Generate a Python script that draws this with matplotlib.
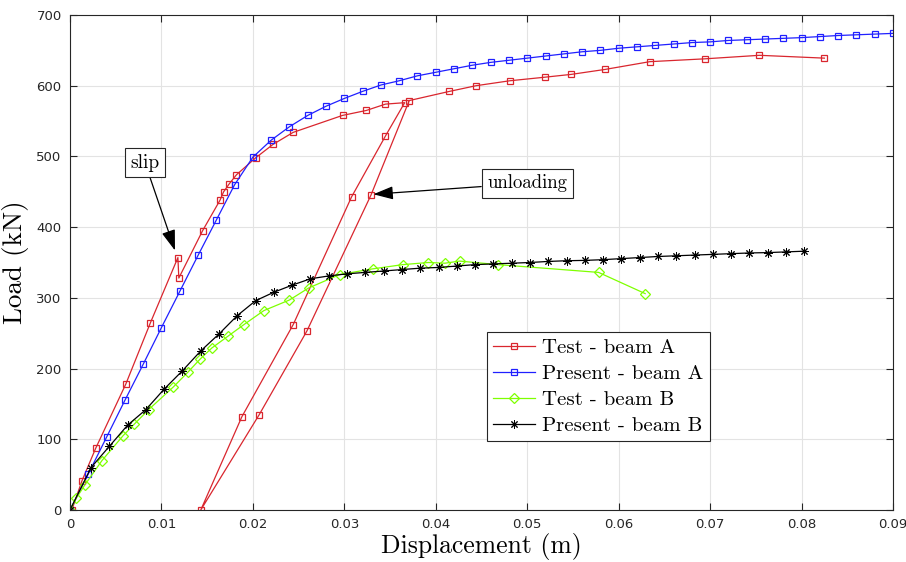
import matplotlib
matplotlib.use("Agg")
import matplotlib.pyplot as plt

# Test - beam A (red squares)
testA_x = [0.0002, 0.0013, 0.0028, 0.0061, 0.0088, 0.0118, 0.0119, 0.0145, 0.0164, 0.0168,
           0.0174, 0.0182, 0.0203, 0.0222, 0.0244, 0.0298, 0.0324, 0.0345, 0.0366,
           0.0345, 0.0308, 0.0244, 0.0188, 0.0143,
           0.0207, 0.0259, 0.0329, 0.0371,
           0.0415, 0.0444, 0.0481, 0.0519, 0.0548, 0.0585, 0.0634, 0.0694, 0.0754, 0.0825]
testA_y = [0, 41, 87, 178, 265, 357, 328, 395, 438, 450,
           461, 474, 498, 517, 534, 558, 565, 574, 576,
           529, 443, 262, 132, 0,
           135, 253, 445, 579,
           592, 600, 607, 612, 616, 623, 634, 638, 643, 639]

# Present - beam A (blue squares)
presA_x = [0.000, 0.002, 0.004, 0.006, 0.008, 0.010, 0.012, 0.014, 0.016, 0.018,
           0.020, 0.022, 0.024, 0.026, 0.028, 0.030, 0.032, 0.034, 0.036, 0.038,
           0.040, 0.042, 0.044, 0.046, 0.048, 0.050, 0.052, 0.054, 0.056, 0.058,
           0.060, 0.062, 0.064, 0.066, 0.068, 0.070, 0.072, 0.074, 0.076, 0.078,
           0.080, 0.082, 0.084, 0.086, 0.088, 0.090]
presA_y = [0, 51, 103, 155, 206, 258, 309, 360, 410, 460,
           499, 523, 542, 558, 571, 582, 592, 601, 607, 614,
           619, 624, 629, 633, 636, 639, 642, 645, 648, 650,
           653, 655, 657, 659, 661, 662, 664, 665, 666, 667,
           668, 669.5, 671, 672, 673, 674]

# Test - beam B (green diamonds)
testB_x = [0.0, 0.0007, 0.0016, 0.0035, 0.0058, 0.0070, 0.0086, 0.0113, 0.0129, 0.0142,
           0.0155, 0.0173, 0.0190, 0.0212, 0.0240, 0.0261, 0.0295, 0.0331, 0.0364, 0.0392,
           0.0410, 0.0426, 0.0468, 0.0578, 0.0629]
testB_y = [0, 17, 35, 70, 105, 121, 142, 174, 195, 213,
           229, 246, 262, 282, 297, 314, 333, 341, 347, 350,
           349, 352, 347, 336, 306]

# Present - beam B (black asterisks)
presB_x = [0.0, 0.0023, 0.0043, 0.0063, 0.0083, 0.0103, 0.0123, 0.0143, 0.0163, 0.0183,
           0.0203, 0.0223, 0.0243, 0.0263, 0.0283, 0.0303, 0.0323, 0.0343, 0.0363, 0.0383,
           0.0403, 0.0423, 0.0443, 0.0463, 0.0483, 0.0503, 0.0523, 0.0543, 0.0563, 0.0583,
           0.0603, 0.0623, 0.0643, 0.0663, 0.0683, 0.0703, 0.0723, 0.0743, 0.0763, 0.0783,
           0.0803]
presB_y = [0, 60, 90, 120, 142, 171, 197, 225, 249, 275,
           296, 308, 318, 327, 331, 334, 336, 338, 340, 342,
           343, 345, 347, 348, 349, 350, 351.5, 352.5, 353, 354,
           355.5, 357, 358.5, 359.5, 360.5, 361.5, 362.5, 363.5, 364, 365,
           366]

x_ticks = [0, 0.01, 0.02, 0.03, 0.04, 0.05, 0.06, 0.07, 0.08, 0.09]
x_tick_labels = ["0", "0.01", "0.02", "0.03", "0.04", "0.05", "0.06", "0.07", "0.08", "0.09"]
y_ticks = [0, 100, 200, 300, 400, 500, 600, 700]
labels = ["Test - beam A", "Present - beam A", "Test - beam B", "Present - beam B"]

plt.rcParams['mathtext.fontset'] = 'cm'
serif = 'cmr10'

fig = plt.figure(figsize=(9.06, 5.62), dpi=100)
ax = fig.add_axes([70/906, 52/562, 823/906, 495/562])

lw = 0.9
ax.plot(testA_x, testA_y, '-', color='#d9262e', lw=lw, marker='s', ms=5, mfc='none',
        mec='#d9262e', mew=0.9, label=labels[0])
ax.plot(presA_x, presA_y, '-', color='#2020ff', lw=lw, marker='s', ms=5, mfc='none',
        mec='#2020ff', mew=0.9, label=labels[1])
ax.plot(testB_x, testB_y, '-', color='#7fff00', lw=lw, marker='D', ms=5.5, mfc='none',
        mec='#7fff00', mew=0.9, label=labels[2])
ax.plot(presB_x, presB_y, '-', color='black', lw=lw, marker=(8, 2, 0), ms=6,
        mec='black', mew=0.7, label=labels[3])

ax.set_xlim(0, 0.09)
ax.set_ylim(0, 700)
ax.set_xticks(x_ticks)
ax.set_xticklabels(x_tick_labels)
ax.set_yticks(y_ticks)
ax.tick_params(direction='in', length=5, width=0.8, top=True, right=True,
               labelsize=9.5, colors='#262626')
ax.tick_params(axis='x', pad=6)
ax.tick_params(axis='y', pad=6)
for sp in ax.spines.values():
    sp.set_color('#262626')
    sp.set_linewidth(0.8)
ax.grid(True, color='#e3e3e3', lw=0.8)
ax.set_axisbelow(True)

ax.set_xlabel("Displacement (m)", fontfamily=serif, fontsize=18.5, labelpad=1.5)
ax.set_ylabel("Load (kN)", fontfamily=serif, fontsize=19.5)
ax.yaxis.set_label_coords(-41/823, 0.5)

leg = ax.legend(loc='upper left', bbox_to_anchor=(417/823, (510-332)/495),
                prop={'family': serif, 'size': 15}, frameon=True, fancybox=False,
                edgecolor='#262626', framealpha=1, borderpad=0.3, labelspacing=0.36,
                handlelength=2.0, handletextpad=0.35, borderaxespad=0)
leg.get_frame().set_linewidth(0.8)

arrow_kw = dict(arrowstyle='-|>,head_length=0.9,head_width=0.3', color='black',
                lw=0.9, shrinkA=0, shrinkB=0)
ax.annotate("slip", xy=(0.01148, 367), xytext=(0.0082, 491),
            fontfamily=serif, fontsize=14, ha='center', va='center',
            bbox=dict(boxstyle='square,pad=0.28', fc='white', ec='#262626', lw=0.8),
            arrowprops=arrow_kw)
ax.annotate("unloading", xy=(0.03317, 446.5), xytext=(0.0500, 462),
            fontfamily=serif, fontsize=13.5, ha='center', va='center',
            bbox=dict(boxstyle='square,pad=0.3', fc='white', ec='#262626', lw=0.8),
            arrowprops=arrow_kw)

fig.savefig("out.png", dpi=100)
